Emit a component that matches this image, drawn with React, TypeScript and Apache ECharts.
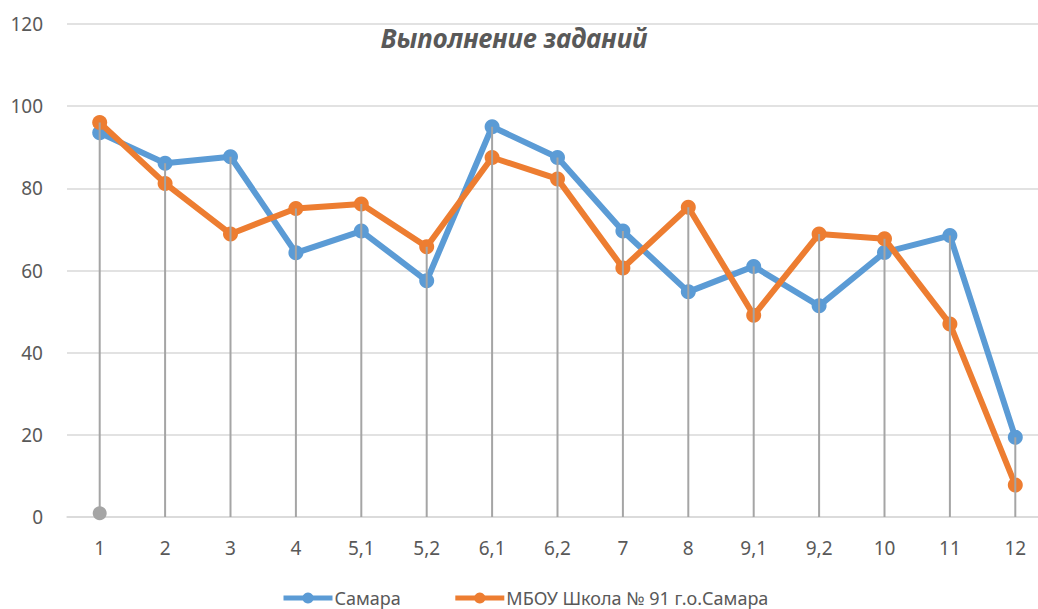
import React, { useEffect, useRef } from "react";
import * as echarts from "echarts";

const categories = ["1", "2", "3", "4", "5,1", "5,2", "6,1", "6,2", "7", "8", "9,1", "9,2", "10", "11", "12"];
const samara = [93.5, 86.1, 87.7, 64.3, 69.6, 57.5, 95.0, 87.5, 69.6, 54.8, 61.0, 51.4, 64.4, 68.5, 19.4];
const school = [96.0, 81.2, 68.9, 75.1, 76.2, 65.8, 87.5, 82.3, 60.6, 75.4, 49.1, 68.9, 67.7, 47.0, 7.8];
const extra = [0.9, "-", "-", "-", "-", "-", "-", "-", "-", "-", "-", "-", "-", "-", "-"];
const yTicks = [0, 20, 40, 60, 80, 100, 120];

const seriesNames = ["Самара", "МБОУ Школа № 91 г.о.Самара"];
const titleText = "Выполнение заданий";

export default function App() {
  const ref = useRef<HTMLDivElement>(null);
  useEffect(() => {
    if (!ref.current) return;
    const chart = echarts.init(ref.current, null, { renderer: "svg" });
    const drop = samara.map((v, i) => Math.max(v, school[i]));
    const font = "'Noto Sans', sans-serif";
    chart.setOption({
      animation: false,
      textStyle: { fontFamily: font },
      title: {
        text: titleText,
        left: 509,
        top: 20,
        textAlign: "center",
        textStyle: { fontSize: 26, fontWeight: "bold", fontStyle: "italic", color: "#595959", fontFamily: font },
      },
      legend: {
        data: seriesNames,
        left: 276,
        bottom: -3,
        itemWidth: 49,
        itemHeight: 14,
        itemGap: 52,
        lineStyle: { width: 5 },
        textStyle: { fontSize: 18, color: "#595959", fontFamily: font, padding: [0, 0, 0, -3] },
      },
      grid: { left: 67, right: 0, top: 24, bottom: 92 },
      xAxis: {
        type: "category",
        data: categories,
        boundaryGap: true,
        axisTick: { show: false },
        axisLine: { lineStyle: { color: "#d9d9d9", width: 1.5 } },
        axisLabel: { color: "#595959", fontSize: 19, margin: 21, fontFamily: font },
      },
      yAxis: {
        type: "value",
        min: yTicks[0],
        max: yTicks[yTicks.length - 1],
        interval: 20,
        axisLine: { show: false },
        axisTick: { show: false },
        axisLabel: { color: "#595959", fontSize: 19, margin: 24, fontFamily: font },
        splitLine: { lineStyle: { color: "#d9d9d9", width: 1.5 } },
      },
      series: [
        {
          name: seriesNames[0],
          type: "line",
          data: samara,
          symbol: "circle",
          symbolSize: 15,
          lineStyle: { color: "#5b9bd5", width: 6 },
          itemStyle: { color: "#5b9bd5" },
          z: 2,
        },
        {
          name: seriesNames[1],
          type: "line",
          data: school,
          symbol: "circle",
          symbolSize: 15,
          lineStyle: { color: "#ed7d31", width: 6 },
          itemStyle: { color: "#ed7d31" },
          z: 3,
        },
        {
          name: "extra",
          type: "line",
          data: extra,
          symbol: "circle",
          symbolSize: 14,
          lineStyle: { color: "#a5a5a5", width: 5 },
          itemStyle: { color: "#a5a5a5" },
          z: 4,
        },
        {
          name: "drop",
          type: "bar",
          data: drop,
          barWidth: 2,
          itemStyle: { color: "#a5a5a5" },
          z: 5,
        },
      ],
    });
    return () => chart.dispose();
  }, []);
  return (
    <div style={{ position: "absolute", left: 0, top: 0, width: 1038, height: 609, overflow: "hidden", background: "#fff" }}>
      <div ref={ref} style={{ width: 1048, height: 609 }} />
    </div>
  );
}
